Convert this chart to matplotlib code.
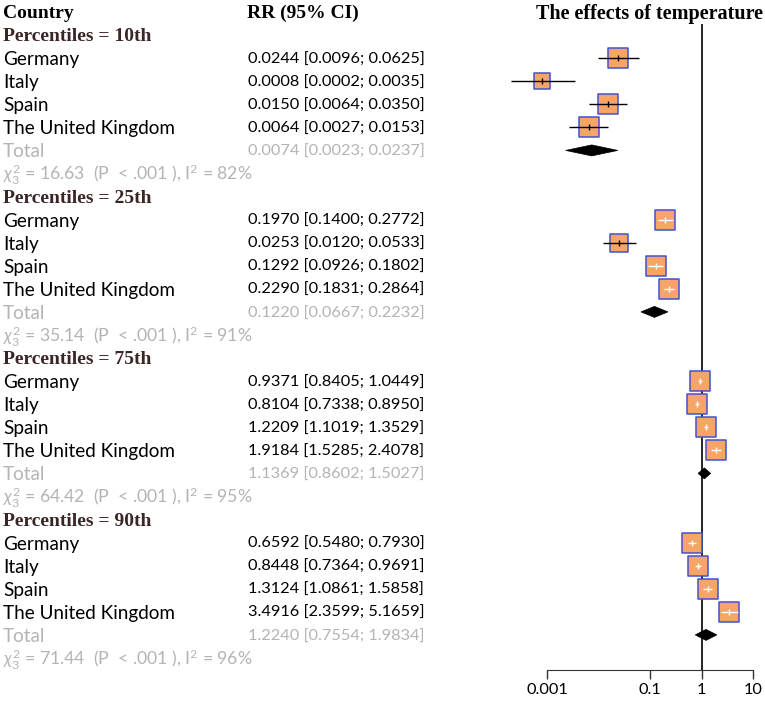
import numpy as np
import matplotlib
matplotlib.use("Agg")
import matplotlib.pyplot as plt
from matplotlib.patches import Polygon

# ---------------- data ----------------
groups = ["Percentiles = 10th", "Percentiles = 25th", "Percentiles = 75th", "Percentiles = 90th"]
countries = ["Germany", "Italy", "Spain", "The United Kingdom"]

rr_est = [[0.0244, 0.0008, 0.0150, 0.0064],
          [0.1970, 0.0253, 0.1292, 0.2290],
          [0.9371, 0.8104, 1.2209, 1.9184],
          [0.6592, 0.8448, 1.3124, 3.4916]]
rr_lo = [[0.0096, 0.0002, 0.0064, 0.0027],
         [0.1400, 0.0120, 0.0926, 0.1831],
         [0.8405, 0.7338, 1.1019, 1.5285],
         [0.5480, 0.7364, 1.0861, 2.3599]]
rr_hi = [[0.0625, 0.0035, 0.0350, 0.0153],
         [0.2772, 0.0533, 0.1802, 0.2864],
         [1.0449, 0.8950, 1.3529, 2.4078],
         [0.7930, 0.9691, 1.5858, 5.1659]]
weights = [[23.5, 16.5, 25.0, 25.0],
           [23.0, 20.5, 23.5, 25.0],
           [24.5, 24.5, 24.5, 24.5],
           [25.0, 25.0, 24.0, 25.0]]

tot_est = [0.0074, 0.1220, 1.1369, 1.2240]
tot_lo = [0.0023, 0.0667, 0.8602, 0.7554]
tot_hi = [0.0237, 0.2232, 1.5027, 1.9834]

chi2 = ["16.63", "35.14", "64.42", "71.44"]
i2 = ["82%", "91%", "95%", "96%"]

xticks = [0.001, 0.1, 1, 10]
xticklabels = ["0.001", "0.1", "1", "10"]

# ---------------- style ----------------
W, H = 765, 707
SERIF = "Liberation Serif"
SANS = "Lato"
plt.rcParams["mathtext.fontset"] = "custom"
plt.rcParams["mathtext.rm"] = SANS
plt.rcParams["mathtext.it"] = SANS + ":italic"

GRAY = "#b4b4b4"
BROWN = "#3b2626"
FILL = "#f7a468"
EDGE = "#4252cc"

fig = plt.figure(figsize=(W / 100, H / 100), dpi=100)

# text axes in pixel coordinates
axt = fig.add_axes([0, 0, 1, 1])
axt.set_xlim(0, W)
axt.set_ylim(H, 0)
axt.axis("off")

# forest axes: log x, pixel y
dec_px = 51.5
lo_dec, hi_dec = -4.0, 1.2
x_left_px = 547 + (lo_dec + 3) * dec_px
x_right_px = 547 + (hi_dec + 3) * dec_px
y_axis_px = 670
axf = fig.add_axes([x_left_px / W, (H - y_axis_px) / H, (x_right_px - x_left_px) / W, y_axis_px / H])
axf.set_xscale("log")
axf.set_xlim(10 ** lo_dec, 10 ** hi_dec)
axf.set_ylim(y_axis_px, 0)
axf.patch.set_visible(False)
for s in ["top", "right", "left"]:
    axf.spines[s].set_visible(False)
axf.spines["bottom"].set_bounds(xticks[0], xticks[-1])
axf.spines["bottom"].set_color("#333333")
axf.set_yticks([])
axf.set_xticks(xticks)
axf.set_xticklabels(xticklabels)
axf.xaxis.set_minor_locator(matplotlib.ticker.NullLocator())
axf.tick_params(axis="x", direction="out", length=6.5, width=1, color="#333333",
                pad=3, labelsize=11.8)
for lab in axf.get_xticklabels():
    lab.set_fontfamily(SANS)

row0 = 12.0
pitch = 23.07
toff = 1.5

def ypos(i):
    return row0 + i * pitch

# headers
axt.text(3, ypos(0) + toff, "Country", fontfamily=SERIF, fontweight="bold", fontsize=14, va="center", ha="left")
axt.text(247, ypos(0) + toff, "RR (95% CI)", fontfamily=SERIF, fontweight="bold", fontsize=14, va="center", ha="left")
axt.text(763, ypos(0) + toff, "The effects of temperature", fontfamily=SERIF, fontweight="bold", fontsize=14.5,
         va="center", ha="right")

# reference line
axf.vlines(1, 24, y_axis_px, color="black", lw=1.2, zorder=1)

fig.canvas.draw()

def xpx(v):
    return axf.transData.transform((v, 0))[0]

max_side = 20.0
FS_NAME = 13.6
FS_NUM = 11.8
FS_CHI = 12.7

r = 1
for g in range(len(groups)):
    axt.text(3, ypos(r) + toff, groups[g], fontfamily=SERIF, fontweight="bold", fontsize=14,
             color=BROWN, va="center", ha="left")
    r += 1
    wmax = max(max(w) for w in weights)
    for c in range(len(countries)):
        y = ypos(r)
        e, lo, hi = rr_est[g][c], rr_lo[g][c], rr_hi[g][c]
        axt.text(3, y + toff, countries[c], fontfamily=SANS, fontsize=FS_NAME, va="center", ha="left")
        axt.text(248, y + toff, f"{e:.4f} [{lo:.4f}; {hi:.4f}]", fontfamily=SANS, fontsize=FS_NUM,
                 va="center", ha="left")
        side = max_side * np.sqrt(weights[g][c] / wmax)
        axf.scatter([e], [y], marker="s", s=(side * 0.72) ** 2, facecolor=FILL,
                    edgecolor=EDGE, linewidths=1.1, zorder=3, clip_on=False)
        inside = (xpx(hi) - xpx(lo)) < side
        col = "white" if inside else "black"
        axf.hlines(y, lo, hi, color=col, lw=1.0, zorder=4, clip_on=False)
        axf.vlines(e, y - 3, y + 3, color=col, lw=1.0, zorder=4, clip_on=False)
        r += 1
    # total
    y = ypos(r)
    axt.text(3, y + toff, "Total", fontfamily=SANS, fontsize=FS_NAME, color=GRAY, va="center", ha="left")
    axt.text(248, y + toff, f"{tot_est[g]:.4f} [{tot_lo[g]:.4f}; {tot_hi[g]:.4f}]", fontfamily=SANS,
             fontsize=FS_NUM, color=GRAY, va="center", ha="left")
    h = 5.5
    poly = Polygon([(tot_lo[g], y), (tot_est[g], y - h), (tot_hi[g], y), (tot_est[g], y + h)],
                   closed=True, facecolor="black", edgecolor="black", lw=0.5, zorder=3,
                   clip_on=False)
    axf.add_patch(poly)
    r += 1
    y = ypos(r)
    axt.text(3, y + toff, r"$\chi^2_3$" + f" = {chi2[g]}  (P  < .001 ), I" + r"$^2$" + f" = {i2[g]}",
             fontfamily=SANS, fontsize=FS_CHI, color=GRAY, va="center", ha="left")
    r += 1

fig.savefig("out.png", dpi=100)
